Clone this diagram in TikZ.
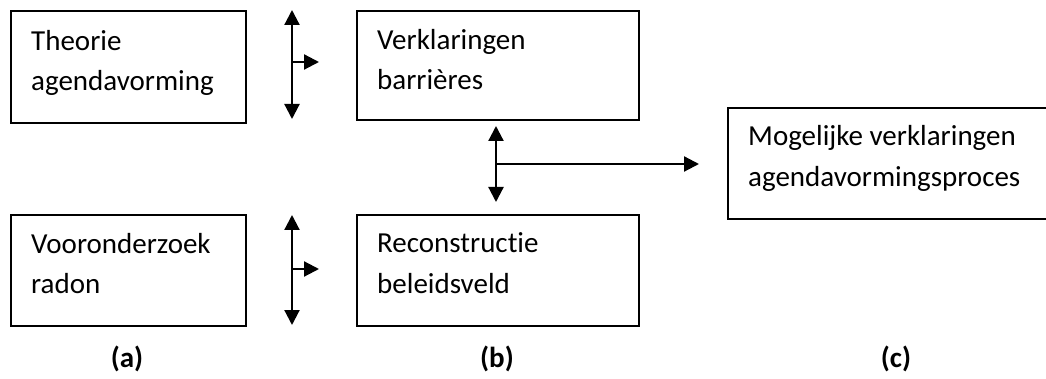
\documentclass[tikz,border=0pt]{standalone}
\usepackage{fontspec}
\setmainfont{Carlito}[Ligatures=NoCommon]
\usetikzlibrary{arrows.meta}
\tikzset{
  boxnode/.style={draw=black, line width=1.6pt, inner sep=0pt},
  txt/.style={anchor=base west, inner sep=0pt, font=\fontsize{29}{40}\selectfont},
  lbl/.style={anchor=center, inner sep=0pt, font=\fontsize{29}{40}\selectfont\bfseries},
  arr/.style={line width=2.2pt, -{Triangle[length=15pt,width=15pt]}},
  darr/.style={line width=2.2pt, {Triangle[length=15pt,width=15pt]}-{Triangle[length=15pt,width=15pt]}}
}
\begin{document}
\begin{tikzpicture}[x=1pt,y=-1pt]
\useasboundingbox (0,0) rectangle (1046,379);
\clip (0,0) rectangle (1046,379);
% boxes
\node[boxnode, minimum width=235pt, minimum height=112pt, anchor=north west] (A1) at (10,10) {};
\node[boxnode, minimum width=282pt, minimum height=109pt, anchor=north west] (B1) at (356,10) {};
\node[boxnode, minimum width=235pt, minimum height=111pt, anchor=north west] (A2) at (10,214) {};
\node[boxnode, minimum width=282pt, minimum height=111pt, anchor=north west] (B2) at (356,214) {};
\node[boxnode, minimum width=339pt, minimum height=111pt, anchor=north west] (C) at (727,107) {};
% texts
\node[txt] (tA1a) at (31,51) {Theorie};
\node[txt] (tA1b) at (31,91) {agendavorming};
\node[txt] (tB1a) at (377,50) {Verklaringen};
\node[txt] (tB1b) at (377,90) {barrières};
\node[txt] (tA2a) at (31,254) {Vooronderzoek};
\node[txt] (tA2b) at (31,294) {radon};
\node[txt] (tB2a) at (377,253) {Reconstructie};
\node[txt] (tB2b) at (377,294) {beleidsveld};
\node[txt] (tCa) at (748,146) {Mogelijke verklaringen};
\node[txt] (tCb) at (748,187) {agendavormingsproces};
% labels
\node[lbl] (la) at (127,359) {(a)};
\node[lbl] (lb) at (497,359) {(b)};
\node[lbl] (lc) at (896,359) {(c)};
% arrow 1
\coordinate (p1t) at (292,10);
\coordinate (p1b) at (292,119);
\coordinate (p1m) at (292,62);
\coordinate (p1r) at (319,62);
\draw[darr] (p1t) -- (p1b);
\draw[arr] (p1m) -- (p1r);
% arrow 2
\coordinate (p2t) at (292,215);
\coordinate (p2b) at (292,325);
\coordinate (p2m) at (292,269);
\coordinate (p2r) at (319,269);
\draw[darr] (p2t) -- (p2b);
\draw[arr] (p2m) -- (p2r);
% middle arrow
\coordinate (p3t) at (496,126);
\coordinate (p3b) at (496,202);
\coordinate (p3m) at (496,164);
\coordinate (p3r) at (699,164);
\draw[darr] (p3t) -- (p3b);
\draw[arr] (p3m) -- (p3r);
\end{tikzpicture}
\end{document}
